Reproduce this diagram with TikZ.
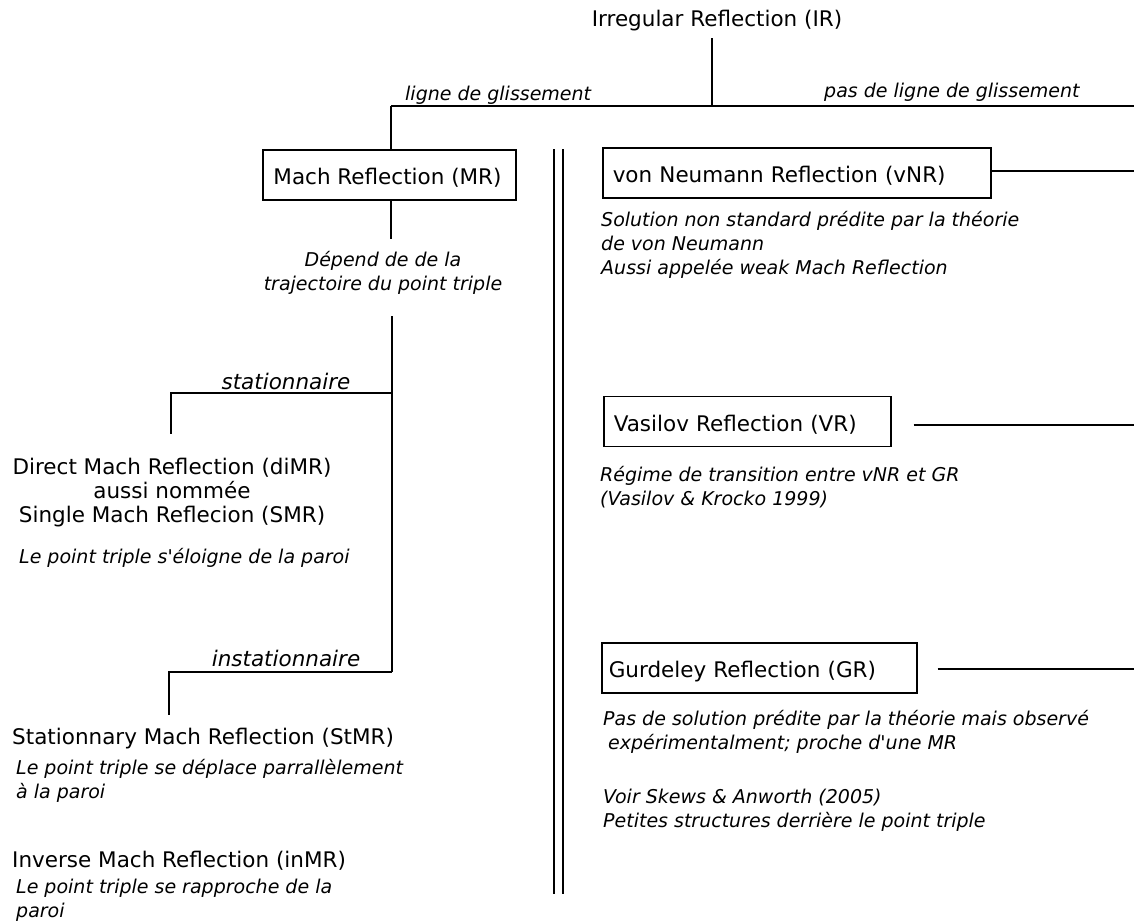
\documentclass[tikz,border=0pt]{standalone}
\usepackage{fontspec}
\setmainfont{DejaVu Sans}[Ligatures=TeXOff]
\newcommand\mymain{\fontsize{21.5}{24}\selectfont}
\newcommand\myit{\fontsize{19}{24}\selectfont\itshape}
\newcommand\mybigit{\fontsize{21.5}{24}\selectfont\itshape}
\begin{document}
\begin{tikzpicture}[x=1pt,y=-1pt,
 txt/.style={font=\mymain, inner sep=0pt, yshift=-2.5pt},
 itx/.style={font=\myit, inner sep=0pt, align=left, yshift=-2.5pt},
 bitx/.style={font=\mybigit, inner sep=0pt, yshift=-2.5pt},
 rbox/.style={draw, line width=1.5pt, font=\mymain, inner ysep=0pt, minimum height=50pt, text height=19.5pt, text depth=0pt, align=left, anchor=west},
 lthin/.style={line width=1.5pt},
 lthick/.style={line width=2.4pt}]
\useasboundingbox (0,0) rectangle (1134,922);

% top
\node[txt] (ir) at (717,18) {Irregular Reflection (IR)};
\coordinate (irb) at (712,38);
\coordinate (fork) at (712,106);
\coordinate (forkL) at (391,106);
\coordinate (forkR) at (1134,106);
\draw[lthin] (irb) -- (fork);
\draw[lthin] (forkL) -- (fork);
\draw[lthick] (fork) -- (forkR);
\node[itx, anchor=west] (lg) at (405,93) {ligne de glissement};
\node[itx, anchor=west] (plg) at (824,90) {pas de ligne de glissement};

% Mach reflection
\node[draw, line width=1.5pt, font=\mymain, minimum width=253pt, minimum height=50pt, inner sep=0pt, text height=19.5pt, text depth=0pt] (mr) at (389.5,175) {\hspace*{-4pt}Mach Reflection (MR)};
\draw[lthin] (forkL) -- (forkL |- mr.north);
\node[itx, align=center] (dep) at (383,270) {Dépend de de la\\trajectoire du point triple};
\coordinate (mrb) at (391,239);
\draw[lthin] (mr.south -| mrb) -- (mrb);

\coordinate (t1) at (392,316);
\coordinate (ts) at (392,393);
\coordinate (ti) at (392,672);
\draw[lthin] (t1) -- (ti);
\coordinate (s1) at (171,393);
\coordinate (s2) at (171,434);
\draw[lthin] (ts) -- (s1) -- (s2);
\node[bitx] (stat) at (286,379) {stationnaire};
\coordinate (i1) at (169,672);
\coordinate (i2) at (169,715);
\draw[lthin] (ti) -- (i1) -- (i2);
\node[bitx] (instat) at (286,656) {instationnaire};

\node[txt, align=center] (dimr) at (172,490) {Direct Mach Reflection (diMR)\\aussi nommée\\Single Mach Reflecion (SMR)};
\node[itx, anchor=west] (dimrt) at (19,555) {Le point triple s'éloigne de la paroi};

\node[txt, anchor=west] (stmr) at (12,736) {Stationnary Mach Reflection (StMR)};
\node[itx, anchor=west] (stmrt) at (16,778) {Le point triple se déplace parrallèlement\\à la paroi};
\node[txt, anchor=west] (inmr) at (12,858) {Inverse Mach Reflection (inMR)};
\node[itx, anchor=west] (inmrt) at (16,898) {Le point triple se rapproche de la\\paroi};

% double separator
\coordinate (d1t) at (554,149);
\coordinate (d1b) at (554,894);
\coordinate (d2t) at (563,149);
\coordinate (d2b) at (563,894);
\draw[lthin] (d1t) -- (d1b);
\draw[lthin] (d2t) -- (d2b);

% right column
\node[rbox, text width=368pt, inner xsep=10pt] (vnr) at (602,173) {von Neumann Reflection (vNR)};
\coordinate (vnrR) at (1134,171);
\draw[lthick] (vnr.east |- vnrR) -- (vnrR);
\node[itx, anchor=west] (vnrt) at (601,242) {Solution non standard prédite par la théorie\\de von Neumann\\Aussi appelée weak Mach Reflection};

\node[rbox, text width=267pt, inner xsep=10pt] (vr) at (603,421.5) {Vasilov Reflection (VR)};
\coordinate (vrR) at (1134,425);
\draw[lthin, shorten <=22pt] (vr.east |- vrR) -- (vrR);
\node[itx, anchor=west] (vrt) at (600,484.5) {Régime de transition entre vNR et GR\\(Vasilov \& Krocko 1999)};

\node[rbox, text width=301pt, inner xsep=7pt] (gr) at (601,668) {Gurdeley Reflection (GR)};
\coordinate (grR) at (1134,669);
\draw[lthin, shorten <=20pt] (gr.east |- grR) -- (grR);
\node[itx, anchor=west] (grt) at (603,729) {Pas de solution prédite par la théorie mais observé\\\hspace*{5pt}expérimentalment; proche d'une MR};
\node[itx, anchor=west] (grt2) at (603,808) {Voir Skews \& Anworth (2005)\\Petites structures derrière le point triple};
\end{tikzpicture}
\end{document}
